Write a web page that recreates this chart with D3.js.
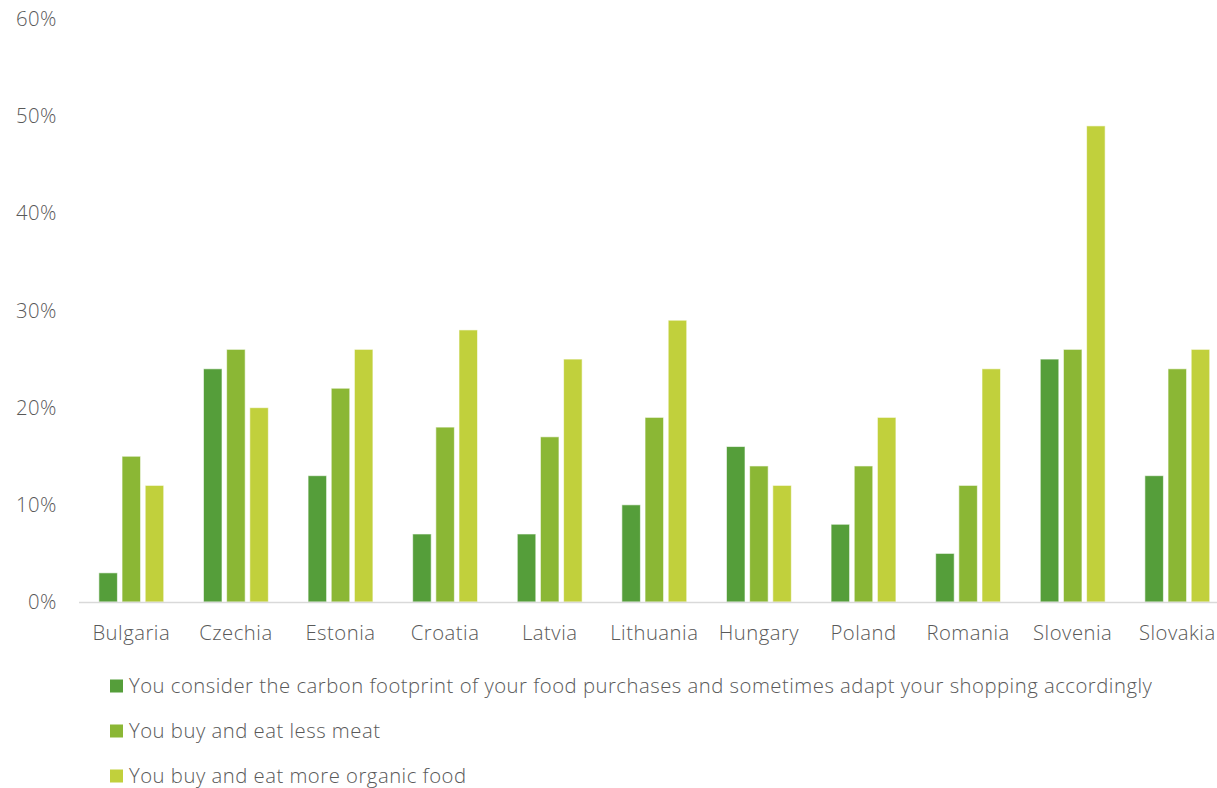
<!DOCTYPE html>
<html>
<head>
<meta charset="utf-8">
<script src="https://cdn.jsdelivr.net/npm/d3@7"></script>
<style>
  html, body { margin: 0; padding: 0; background: #fff; }
  svg { display: block; font-family: "Open Sans", "Noto Sans", sans-serif; font-weight: 300; letter-spacing: 0.5px; }
</style>
</head>
<body>
<svg id="chart" width="1217" height="788"></svg>
<script>
// Countries along the x axis
const countries = ["Bulgaria", "Czechia", "Estonia", "Croatia", "Latvia", "Lithuania",
  "Hungary", "Poland", "Romania", "Slovenia", "Slovakia"];

// Share of respondents per statement (percent)
const carbonFootprint = [3, 24, 13, 7, 7, 10, 16, 8, 5, 25, 13];
const lessMeat        = [15, 26, 22, 18, 17, 19, 14, 14, 12, 26, 24];
const organicFood     = [12, 20, 26, 28, 25, 29, 12, 19, 24, 49, 26];

const seriesNames = [
  "You consider the carbon footprint of your food purchases and sometimes adapt your shopping accordingly",
  "You buy and eat less meat",
  "You buy and eat more organic food"
];
const seriesColors = ["#559e3a", "#8bb735", "#c1d03c"];
const yTicks = [0, 10, 20, 30, 40, 50, 60];

const series = [carbonFootprint, lessMeat, organicFood].map((vals, i) => ({
  name: seriesNames[i], color: seriesColors[i], values: vals
}));

const svg = d3.select("#chart");
const margin = { left: 79, right: 1229.6, top: 19, bottom: 602 };
const fontSize = 20.3;
const textColor = "#595959";

const x = d3.scaleBand().domain(countries).range([margin.left, margin.right]).paddingInner(0).paddingOuter(0);
const groupFrac = 0.62;
const x1 = d3.scaleBand().domain(d3.range(series.length))
  .range([0, x.bandwidth() * groupFrac]).paddingInner(0.2);
const y = d3.scaleLinear().domain([0, 60]).range([margin.bottom, margin.top]);

// y tick labels (no gridlines)
svg.append("g")
  .selectAll("text")
  .data(yTicks)
  .join("text")
  .attr("x", 57)
  .attr("y", d => y(d))
  .attr("dy", "0.35em")
  .attr("text-anchor", "end")
  .attr("fill", textColor)
  .attr("font-size", fontSize)
  .text(d => d + "%");

// bars
const groups = svg.append("g")
  .selectAll("g")
  .data(countries)
  .join("g")
  .attr("transform", d => `translate(${x(d) + x.bandwidth() * (1 - groupFrac) / 2},0)`);

groups.selectAll("rect")
  .data((c, ci) => series.map((s, si) => ({ si, v: s.values[ci], color: s.color })))
  .join("rect")
  .attr("x", d => x1(d.si))
  .attr("width", x1.bandwidth())
  .attr("y", d => y(d.v))
  .attr("height", d => y(0) - y(d.v))
  .attr("fill", d => d.color)
  .attr("stroke", "#ffffff")
  .attr("stroke-opacity", 0.6)
  .attr("stroke-width", 1);

// baseline
svg.append("line")
  .attr("x1", margin.left).attr("x2", margin.right)
  .attr("y1", y(0) + 0.5).attr("y2", y(0) + 0.5)
  .attr("stroke", "#d9d9d9").attr("stroke-width", 1.5);

// category labels
svg.append("g")
  .selectAll("text")
  .data(countries)
  .join("text")
  .attr("x", d => x(d) + x.bandwidth() / 2)
  .attr("y", 640)
  .attr("text-anchor", "middle")
  .attr("fill", textColor)
  .attr("font-size", fontSize)
  .text(d => d);

// legend
const legend = svg.append("g")
  .selectAll("g")
  .data(series)
  .join("g")
  .attr("transform", (d, i) => `translate(110,${686 + i * 45})`);

legend.append("rect")
  .attr("x", 0).attr("y", -6.5)
  .attr("width", 13).attr("height", 13)
  .attr("fill", d => d.color);

legend.append("text")
  .attr("x", 19)
  .attr("y", 0)
  .attr("dy", "0.35em")
  .attr("fill", textColor)
  .attr("font-size", fontSize)
  .text(d => d.name);
</script>
</body>
</html>
